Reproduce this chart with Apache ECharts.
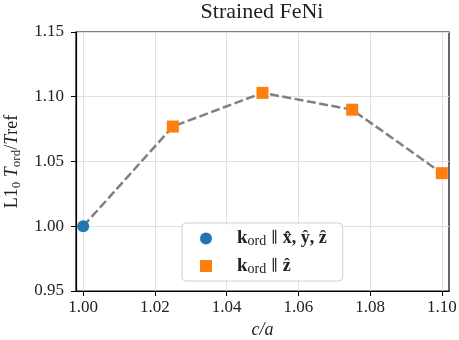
<!DOCTYPE html>
<html>
<head>
<meta charset="utf-8">
<script src="https://cdn.jsdelivr.net/npm/echarts@6/dist/echarts.min.js"></script>
<style>
  html, body {margin: 0; padding: 0; background: #fff;}
  #chart {width: 459px; height: 340px;}
</style>
</head>
<body>
<div id="chart"></div>
<script>
// c/a values and T_ord/Tref readings
const caAll = [1.00, 1.025, 1.05, 1.075, 1.10];
const tordAll = [1.000, 1.077, 1.103, 1.090, 1.041];
const caXYZ = [1.00];
const tordXYZ = [1.000];
const caZ = [1.025, 1.05, 1.075, 1.10];
const tordZ = [1.077, 1.103, 1.090, 1.041];
const xTicks = [1.00, 1.02, 1.04, 1.06, 1.08, 1.10];
const yTicks = [0.95, 1.00, 1.05, 1.10, 1.15];

const serif = 'Liberation Serif';
const zip = (xs, ys) => xs.map((x, i) => [x, ys[i]]);

const chart = echarts.init(document.getElementById('chart'));
const axisCommon = {
    axisLine: {show: true, lineStyle: {color: '#000', width: 1.2}},
    axisTick: {show: true, inside: false, length: 5, lineStyle: {color: '#000', width: 1}},
    splitLine: {show: true, lineStyle: {color: '#e0e0e0', width: 1}},
    axisLabel: {color: '#222', fontFamily: serif, fontSize: 17, formatter: v => v.toFixed(2)}
};
chart.setOption({
    animation: false,
    title: {
        text: 'Strained FeNi',
        left: 262,
        textAlign: 'center',
        top: 1,
        padding: 0,
        textStyle: {fontFamily: serif, fontSize: 22, fontWeight: 'normal', color: '#222'}
    },
    grid: {
        left: 76, right: 10, top: 32, bottom: 49,
        outerBoundsMode: 'none',
        show: true, borderColor: '#000', borderWidth: 1.2
    },
    xAxis: {
        ...axisCommon,
        type: 'value',
        min: 0.998,
        max: 1.102,
        axisTick: {...axisCommon.axisTick, customValues: xTicks},
        axisLabel: {...axisCommon.axisLabel, customValues: xTicks, margin: 8},
        name: 'c/a',
        nameLocation: 'middle',
        nameGap: 29,
        nameTextStyle: {fontFamily: serif, fontSize: 18, fontStyle: 'italic', color: '#222'}
    },
    yAxis: {
        ...axisCommon,
        type: 'value',
        min: yTicks[0],
        max: yTicks[yTicks.length - 1],
        interval: 0.05,
        axisLabel: {...axisCommon.axisLabel, margin: 12},
        name: '{n|L1}{s|0}{n| }{i|T}{s|ord}{n|/}{i|T}{n|ref}',
        nameLocation: 'middle',
        nameRotate: 90,
        nameGap: 50,
        nameTextStyle: {
            color: '#222',
            rich: {
                n: {fontFamily: serif, fontSize: 18, lineHeight: 22, color: '#222'},
                i: {fontFamily: serif, fontSize: 18, lineHeight: 22, fontStyle: 'italic', color: '#222'},
                s: {fontFamily: serif, fontSize: 13, lineHeight: 12, verticalAlign: 'bottom', color: '#222'}
            }
        }
    },
    legend: {
        orient: 'vertical',
        left: 182,
        top: 223,
        data: ['xyz', 'z'],
        itemWidth: 12,
        itemHeight: 12,
        itemGap: 8,
        padding: [6, 16, 5, 18],
        backgroundColor: 'rgba(255,255,255,0.85)',
        borderColor: '#d0d0d0',
        borderWidth: 1,
        borderRadius: 4,
        formatter: name => name === 'xyz'
            ? '{sp|}{k|k}{s|ord}{p| \u2225 }{b|x\u0302, \u0177, \u1E91}'
            : '{sp|}{k|k}{s|ord}{p| \u2225 }{b|\u1E91}',
        textStyle: {
            rich: {
                sp: {width: 20},
                k: {fontFamily: serif, fontSize: 19, fontWeight: 'bold', lineHeight: 20, color: '#222'},
                b: {fontFamily: serif, fontSize: 18, fontWeight: 'bold', lineHeight: 20, color: '#222'},
                p: {fontFamily: 'DejaVu Serif', fontSize: 15, lineHeight: 20, color: '#222'},
                s: {fontFamily: serif, fontSize: 14, lineHeight: 12, verticalAlign: 'bottom', color: '#222'}
            }
        }
    },
    series: [
        {
            name: 'trend',
            type: 'line',
            data: zip(caAll, tordAll),
            showSymbol: false,
            lineStyle: {color: '#808080', width: 2.5, type: [9, 3.5]},
            z: 2
        },
        {
            name: 'xyz',
            type: 'scatter',
            data: zip(caXYZ, tordXYZ),
            symbol: 'circle',
            symbolSize: 12,
            itemStyle: {color: '#1f77b4', opacity: 1},
            z: 3
        },
        {
            name: 'z',
            type: 'scatter',
            data: zip(caZ, tordZ),
            symbol: 'rect',
            symbolSize: 12,
            itemStyle: {color: '#ff7f0e', opacity: 1},
            z: 3
        }
    ]
});
</script>
</body>
</html>
